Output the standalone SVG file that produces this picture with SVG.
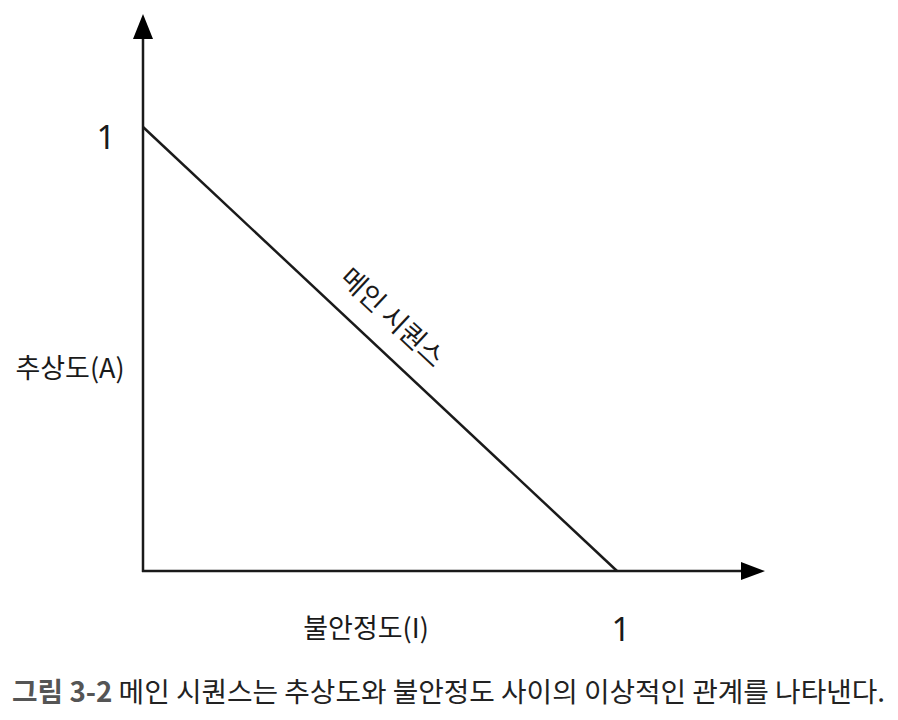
<svg xmlns="http://www.w3.org/2000/svg" width="898" height="720" viewBox="0 0 898 720">
<style>
.ax{stroke:#1a1a1a;stroke-width:2.5;fill:none}
.t{font-family:"Noto Sans CJK KR","Noto Sans",sans-serif;fill:#1a1a1a;font-size:27px}
.n{font-family:"Noto Sans","Noto Sans CJK KR",sans-serif;fill:#1a1a1a;font-size:33px}
.cap{font-family:"Noto Sans CJK KR",sans-serif;font-size:27.7px;fill:#222}
</style>
<rect width="898" height="720" fill="#fff"/>
<g id="connectors">
<line class="ax" x1="143" y1="572" x2="143" y2="38"/>
<path d="M133,39 L143,14 L153,39 z" fill="#000"/>
<line class="ax" x1="142" y1="571" x2="742" y2="571"/>
<path d="M741,562 L765,571 L741,580 z" fill="#000"/>
<line class="ax" x1="143" y1="127" x2="617" y2="571"/>
</g>
<g id="label-y1"><text class="n" x="106" y="149" text-anchor="middle">1</text></g>
<g id="label-x1"><text class="n" x="621" y="641" text-anchor="middle">1</text></g>
<g id="label-a"><text class="t" x="70" y="378" text-anchor="middle">추상도(A)</text></g>
<g id="label-i"><text class="t" x="366" y="638" text-anchor="middle">불안정도(I)</text></g>
<g id="label-main"><text class="t" x="0" y="0" text-anchor="middle" transform="translate(392,318) rotate(43.1) translate(0,9)">메인 시퀀스</text></g>
<g id="caption"><text class="cap" x="12" y="702" textLength="873" lengthAdjust="spacingAndGlyphs"><tspan font-weight="700" fill="#555">그림 3-2</tspan> 메인 시퀀스는 추상도와 불안정도 사이의 이상적인 관계를 나타낸다.</text></g>
</svg>
